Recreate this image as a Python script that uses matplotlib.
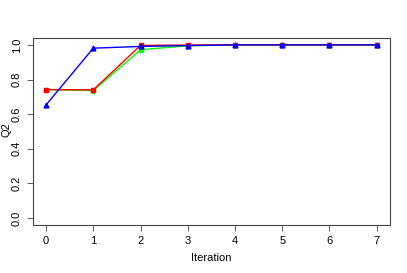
import matplotlib
matplotlib.use("Agg")
import matplotlib.pyplot as plt

# -------------------------
# DATA
# -------------------------
iterations = [0, 1, 2, 3, 4, 5, 6, 7]
q2_red = [0.742, 0.740, 0.997, 0.999, 1.0, 1.0, 1.0, 1.0]
q2_green = [0.742, 0.736, 0.972, 0.995, 1.0, 1.0, 1.0, 1.0]
q2_blue = [0.653, 0.981, 0.991, 0.996, 1.0, 1.0, 1.0, 1.0]
y_ticks = [0.0, 0.2, 0.4, 0.6, 0.8, 1.0]

plt.rcParams["font.family"] = ["Liberation Sans", "DejaVu Sans"]

fig = plt.figure(figsize=(4.07, 2.73), dpi=100)
ax = fig.add_axes([0.0806, 0.1758, 0.8774, 0.6852])

ax.plot(iterations, q2_green, color="#00FF00", lw=1, marker="o", ms=3)
ax.plot(iterations, q2_red, color="#FF0000", lw=1, marker="s", ms=3)
ax.plot(iterations, q2_blue, color="#0000FF", lw=1, marker="^", ms=3.5)

ax.set_xlim(-0.28, 7.28)
ax.set_ylim(-0.04, 1.04)
ax.set_xticks(iterations)
ax.set_yticks(y_ticks)
ax.set_yticklabels([f"{v:.1f}" for v in y_ticks], rotation=90, va="center")

for s in ax.spines.values():
    s.set_color("#444444")
    s.set_linewidth(0.8)
ax.tick_params(axis="both", labelsize=8, length=4, width=0.6,
               color="#444444", pad=4)

ax.set_xlabel("Iteration", fontsize=8, labelpad=5)
# y label sits close to the left edge like R's default margin
fig.text(7 / 407, 1 - 130 / 273, "Q2", rotation=90, fontsize=8,
         ha="center", va="center")

fig.savefig("out.png", dpi=100)
plt.close(fig)
